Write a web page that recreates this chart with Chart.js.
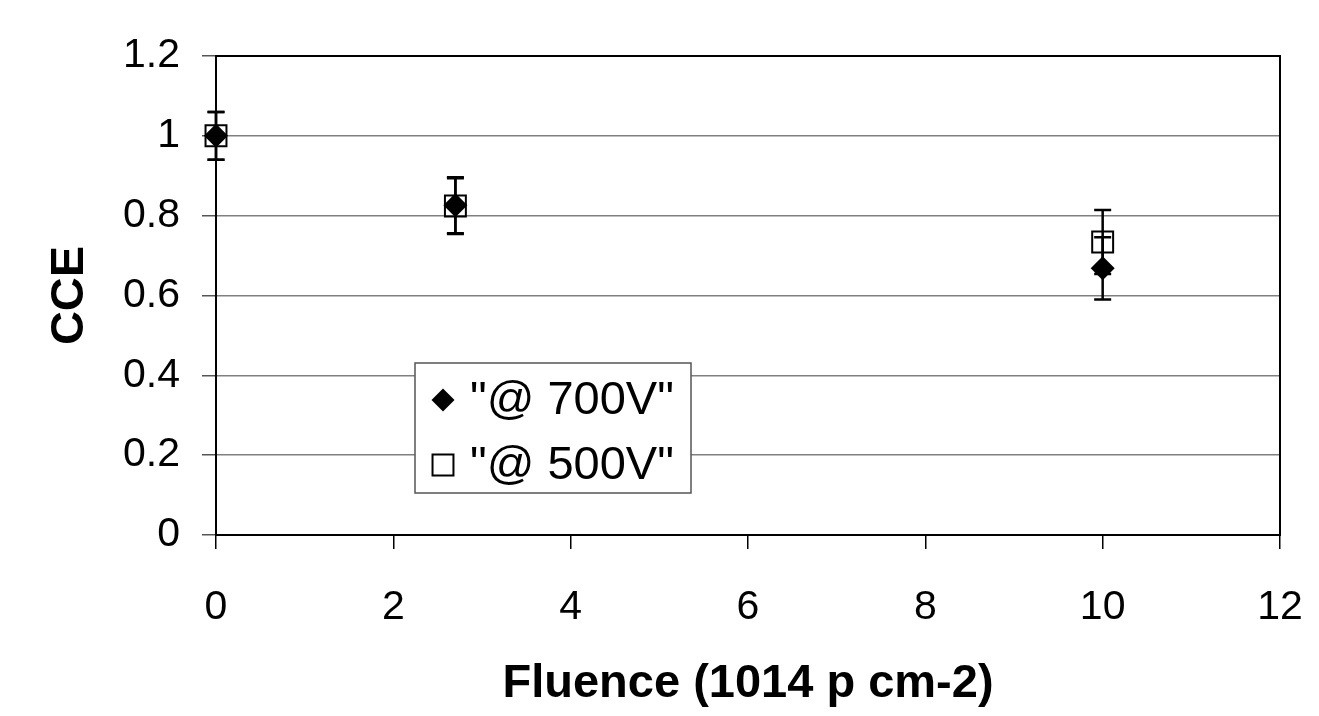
<!DOCTYPE html>
<html>
<head>
<meta charset="utf-8">
<script src="https://cdn.jsdelivr.net/npm/chart.js@4.4.0/dist/chart.umd.min.js"></script>
<style>
  html, body { margin: 0; padding: 0; background: #fff; }
  #wrap { width: 1319px; height: 716px; position: relative; }
</style>
</head>
<body>
<div id="wrap"><canvas id="myChart"></canvas></div>
<script>
//data
const fluence = [0, 2.7, 10];
const cce700 = [1.0, 0.826, 0.668];
const cce500 = [1.0, 0.824, 0.734];
const err700 = [0.06, 0.07, 0.078];
const err500 = [0.06, 0.07, 0.08];
const labels = ['"@ 700V"', '"@ 500V"'];
const xTicks = [0, 2, 4, 6, 8, 10, 12];
const yTicks = [0, 0.2, 0.4, 0.6, 0.8, 1, 1.2];

const toPoints = (ys) => fluence.map((x, i) => ({ x: x, y: ys[i] }));

//error bars, drawn under the markers
const errorBars = {
  id: 'errorBars',
  beforeDatasetsDraw: (chart) => {
    const ctx = chart.ctx;
    const xs = chart.scales.x;
    const ys = chart.scales.y;
    const sets = [[cce700, err700], [cce500, err500]];
    ctx.save();
    ctx.strokeStyle = '#000';
    ctx.lineWidth = 2.5;
    sets.forEach(([vals, errs]) => {
      vals.forEach((v, i) => {
        const px = xs.getPixelForValue(fluence[i]);
        const top = ys.getPixelForValue(v + errs[i]);
        const bot = ys.getPixelForValue(v - errs[i]);
        ctx.beginPath();
        ctx.moveTo(px, top); ctx.lineTo(px, bot);
        ctx.moveTo(px - 8.5, top); ctx.lineTo(px + 8.5, top);
        ctx.moveTo(px - 8.5, bot); ctx.lineTo(px + 8.5, bot);
        ctx.stroke();
      });
    });
    ctx.restore();
  }
};

//frame round the plot area + legend box
const frameAndLegend = {
  id: 'frameAndLegend',
  beforeDatasetsDraw: (chart) => {
    const ctx = chart.ctx;
    const a = chart.chartArea;
    ctx.save();
    ctx.strokeStyle = '#000';
    ctx.lineWidth = 2;
    ctx.strokeRect(a.left, a.top, a.right - a.left, a.bottom - a.top);
    ctx.restore();
  },
  afterDraw: (chart) => {
    const ctx = chart.ctx;
    const a = chart.chartArea;
    ctx.save();
    // legend box
    const lx = a.left + 199, ly = a.top + 307, lw = 276, lh = 130;
    ctx.fillStyle = '#fff';
    ctx.fillRect(lx, ly, lw, lh);
    ctx.strokeStyle = '#555';
    ctx.lineWidth = 1.5;
    ctx.strokeRect(lx, ly, lw, lh);

    const h = Chart.helpers;
    ctx.lineWidth = 2;
    ctx.strokeStyle = '#000';
    ctx.fillStyle = '#000';
    h.drawPoint(ctx, { pointStyle: 'rectRot', radius: 11.5, borderWidth: 0 }, lx + 28, ly + 37);
    ctx.fillStyle = 'rgba(0,0,0,0)';
    h.drawPoint(ctx, { pointStyle: 'rect', radius: 14.8, borderWidth: 2 }, lx + 28, ly + 102);

    ctx.fillStyle = '#000';
    ctx.font = '47px "Liberation Sans", Arial, sans-serif';
    ctx.textBaseline = 'middle';
    ctx.textAlign = 'left';
    ctx.fillText(labels[0], lx + 55, ly + 38);
    ctx.fillText(labels[1], lx + 55, ly + 103);
    ctx.restore();
  }
};

const ctx = document.getElementById('myChart').getContext('2d');
window.myChart = new Chart(ctx, {
  type: 'scatter',
  data: {
    datasets: [
      {
        label: labels[0],
        data: toPoints(cce700),
        pointStyle: 'rectRot',
        pointRadius: 12,
        pointBackgroundColor: '#000',
        pointBorderColor: '#000',
        pointBorderWidth: 0,
        clip: false,
        order: 0
      },
      {
        label: labels[1],
        data: toPoints(cce500),
        pointStyle: 'rect',
        pointRadius: 14.8,
        pointBackgroundColor: 'rgba(0,0,0,0)',
        pointBorderColor: '#000',
        pointBorderWidth: 2,
        clip: false,
        order: 1
      }
    ]
  },
  options: {
    responsive: true,
    maintainAspectRatio: false,
    animation: false,
    layout: { padding: { top: 56, right: 39, left: 0, bottom: 0 } },
    plugins: {
      legend: { display: false },
      tooltip: { enabled: false }
    },
    scales: {
      x: {
        type: 'linear',
        min: 0,
        max: 12,
        afterBuildTicks: (s) => { s.ticks = xTicks.map(v => ({ value: v })); },
        afterFit: (s) => { s.height = 181; s.paddingLeft = 0; s.paddingRight = 0; },
        grid: { drawOnChartArea: false, drawTicks: true, tickLength: 14, color: '#000', lineWidth: 1.5 },
        border: { display: true, color: '#000', width: 2 },
        ticks: { color: '#000', padding: 34, font: { family: '"Liberation Sans", Arial, sans-serif', size: 41 } },
        title: {
          display: true,
          text: 'Fluence (1014 p cm-2)',
          color: '#000',
          padding: { top: 0, bottom: 4 },
          font: { family: '"Liberation Sans", Arial, sans-serif', size: 47, weight: 'bold' }
        }
      },
      y: {
        min: 0,
        max: 1.2,
        afterBuildTicks: (s) => { s.ticks = yTicks.map(v => ({ value: v })); },
        afterFit: (s) => { s.width = 216; s.paddingTop = 0; s.paddingBottom = 0; },
        grid: { color: '#808080', lineWidth: 1.5, tickLength: 14, tickColor: '#555' },
        border: { display: true, color: '#000', width: 2 },
        ticks: {
          color: '#000',
          padding: 22,
          font: { family: '"Liberation Sans", Arial, sans-serif', size: 41 },
          callback: (v) => String(Math.round(v * 10) / 10)
        },
        title: {
          display: true,
          text: 'CCE',
          color: '#000',
          padding: { top: 42, bottom: 0 },
          font: { family: '"Liberation Sans", Arial, sans-serif', size: 47, weight: 'bold' }
        }
      }
    }
  },
  plugins: [errorBars, frameAndLegend]
});
</script>
</body>
</html>
